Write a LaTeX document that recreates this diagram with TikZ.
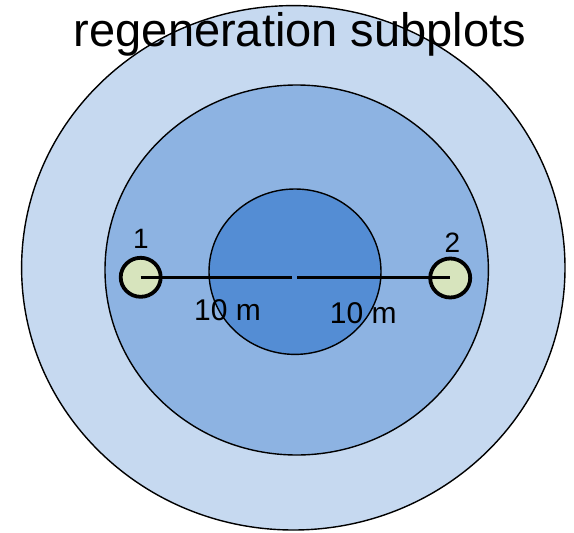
\documentclass[tikz,border=0pt]{standalone}
\usepackage{fontspec}
\setmainfont{Liberation Sans}
\usetikzlibrary{shapes.geometric}
\definecolor{ringA}{RGB}{198,217,240}
\definecolor{ringB}{RGB}{141,179,226}
\definecolor{ringC}{RGB}{84,141,212}
\definecolor{plotfill}{RGB}{215,228,189}
\begin{document}
\begin{tikzpicture}[x=1pt,y=-1pt,
  ring/.style={ellipse,draw=black,line width=1.4pt,inner sep=0pt,outer sep=0pt},
  plotc/.style={ellipse,draw=black,line width=3.8pt,fill=plotfill,minimum width=40pt,minimum height=39pt,inner sep=0pt},
  lbl/.style={font=\fontsize{28}{30}\selectfont,anchor=base,inner sep=0pt},
  dlbl/.style={font=\fontsize{30}{32}\selectfont,anchor=base,inner sep=0pt},
  meas/.style={line width=3.6pt}]
\useasboundingbox[fill=white] (0,0) rectangle (574,533);
\node[ring,fill=ringA,minimum width=543.4pt,minimum height=524.4pt] (outer) at (293.3,267.8) {};
\node[ring,fill=ringB,minimum width=383.4pt,minimum height=370pt] (middle) at (296.7,270) {};
\node[ring,fill=ringC,minimum width=172pt,minimum height=165.4pt] (inner) at (295,271.7) {};
\node[plotc] (p1) at (140.7,277.3) {};
\node[plotc] (p2) at (450.2,278) {};
\coordinate (gl) at (291.7,277.3);
\coordinate (gr) at (297.3,277.3);
\draw[meas] (p1.center) -- (gl);
\draw[meas] (gr) -- (p2.center |- gr);
\node[lbl] (n1) at (141,248.3) {1};
\node[lbl] (n2) at (452.5,252.3) {2};
\node[dlbl] (d1) at (227.5,320.7) {10 m};
\node[dlbl] (d2) at (363.3,323) {10 m};
\node[font=\fontsize{47}{50}\selectfont,anchor=base,inner sep=0pt] (title) at (300,46) {regeneration subplots};
\end{tikzpicture}
\end{document}
